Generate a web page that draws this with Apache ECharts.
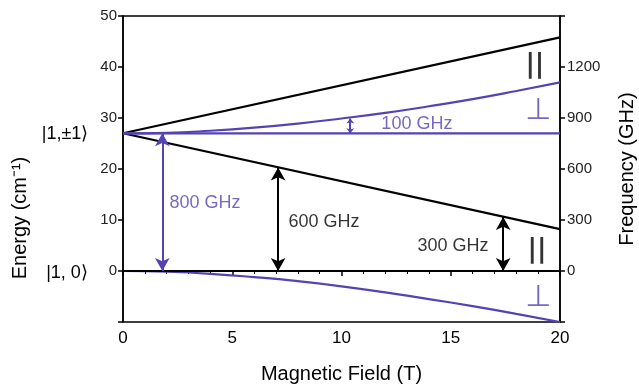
<!DOCTYPE html>
<html>
<head>
<meta charset="utf-8">
<script src="https://cdn.jsdelivr.net/npm/echarts@6/dist/echarts.min.js"></script>
<style>
  html, body { margin: 0; background: #fff; }
  #chart { width: 639px; height: 385px; }
</style>
</head>
<body>
<div id="chart"></div>
<script>
// magnetic field (T)
const fieldEnds = [0, 20]
const fieldSteps = [0, 2, 4, 6, 8, 10, 12, 14, 16, 18, 20]

// energies (cm^-1)
const parUpper = [27, 45.8]
const parLower = [27, 8.2]
const perpMid = [27, 27]
const ground = [0, 0]
const perpUpper = [27, 27.1, 27.5, 28.1, 28.9, 29.9, 31.0, 32.3, 33.7, 35.3, 37.0]
const perpLower = [0, -0.15, -0.55, -1.2, -2.0, -3.0, -4.2, -5.5, -6.9, -8.4, -10.0]

// transition arrows: field, from, to, colour key
const arrowField = [1.8, 7.1, 17.4, 10.4]
const arrowFrom = [27, 20.3, 10.6, 27]
const arrowTo = [0, 0, 0, 29.9]
const arrowKind = ['perp', 'par', 'par', 'perp']

// annotations in data space
const noteText = ['800 GHz', '600 GHz', '300 GHz', '100 GHz', '||', '\u22A5', '||', '\u22A5']
const noteField = [3.75, 9.2, 15.1, 13.45, 18.85, 19.0, 18.95, 19.0]
const noteEnergy = [13.3, 9.6, 4.9, 28.8, 40.4, 31.4, 4.1, -5.3]
const noteKind = ['perp', 'par', 'par', 'perp', 'par', 'perp', 'par', 'perp']

const energyTicks = [-10, 0, 10, 20, 30, 40, 50]
const freqTicks = [-300, 0, 300, 600, 900, 1200, 1500]

const BLUE = '#5443b2'
const BLACK = '#000'
const colorOf = (k) => (k === 'perp' ? BLUE : BLACK)
const FONT = 'Liberation Sans, Arial, sans-serif'

const pairs = (xs, ys) => xs.map((x, i) => [x, ys[i]])

function lineSeries(name, xs, ys, color, smooth) {
  return {
    name,
    type: 'line',
    data: pairs(xs, ys),
    smooth: !!smooth,
    showSymbol: false,
    symbol: 'none',
    lineStyle: { color, width: 2.2 },
    z: 3
  }
}

const arrowLines = arrowField.map((b, i) => {
  const small = Math.abs(arrowTo[i] - arrowFrom[i]) < 5
  return [
    { coord: [b, arrowFrom[i]], symbolSize: small ? [6, 5] : [11, 13] },
    {
      coord: [b, arrowTo[i]],
      symbolSize: small ? [6, 5] : [11, 13],
      lineStyle: { color: colorOf(arrowKind[i]), width: 2, type: 'solid' }
    }
  ]
})

const notes = noteText.map((t, i) => {
  const isBars = t === '||'
  const isPerp = t === '\u22A5'
  return {
    value: [noteField[i], noteEnergy[i]],
    label: {
      formatter: t,
      color: colorOf(noteKind[i]),
      fontSize: isBars ? 26 : isPerp ? 30 : 18,
      fontWeight: isBars ? 'bold' : 'normal',
      fontFamily: isBars || isPerp ? 'DejaVu Sans, sans-serif' : FONT
    }
  }
})

const chart = echarts.init(document.getElementById('chart'))
chart.setOption({
  backgroundColor: '#fff',
  animation: false,
  grid: {
    left: 123,
    right: 79,
    top: 16,
    bottom: 63,
    outerBoundsMode: 'none',
    containLabel: false,
    show: true,
    borderColor: '#000',
    borderWidth: 1.5
  },
  xAxis: {
    type: 'value',
    min: 0,
    max: 20,
    interval: 5,
    name: 'Magnetic Field (T)',
    nameLocation: 'middle',
    nameGap: 42,
    nameTextStyle: { fontSize: 20, color: BLACK, fontFamily: FONT },
    axisLine: { lineStyle: { color: '#000', width: 1.5 } },
    axisTick: { length: 5, lineStyle: { color: '#000', width: 1.5 } },
    minorTick: { show: true, splitNumber: 5, length: 3, lineStyle: { color: '#000' } },
    axisLabel: { fontSize: 17, color: BLACK, fontFamily: FONT, margin: 8 },
    splitLine: { show: false }
  },
  yAxis: [
    {
      type: 'value',
      min: energyTicks[0],
      max: energyTicks[energyTicks.length - 1],
      interval: 10,
      axisLine: { show: true, lineStyle: { color: '#000', width: 1.5 } },
      axisTick: { show: true, length: 5, lineStyle: { color: '#000', width: 1.5 } },
      axisLabel: {
        fontSize: 15,
        color: '#222',
        fontFamily: FONT,
        margin: 6,
        formatter: (v) => (v < 0 ? '' : String(v))
      },
      splitLine: { show: false }
    },
    {
      type: 'value',
      position: 'right',
      min: freqTicks[0],
      max: freqTicks[freqTicks.length - 1],
      interval: 300,
      name: 'Frequency (GHz)',
      nameLocation: 'middle',
      nameGap: 57,
      nameRotate: 90,
      nameTextStyle: { fontSize: 20, color: BLACK, fontFamily: FONT },
      axisLine: { show: true, lineStyle: { color: '#000', width: 1.5 } },
      axisTick: { show: true, length: 5, lineStyle: { color: '#000', width: 1.5 } },
      axisLabel: {
        fontSize: 15,
        color: '#222',
        fontFamily: FONT,
        margin: 7,
        formatter: (v) => (v < 0 || v > 1200 ? '' : String(v))
      },
      splitLine: { show: false }
    }
  ],
  graphic: [
    {
      type: 'text',
      x: 20,
      y: 218,
      rotation: Math.PI / 2,
      style: {
        text: 'Energy (cm\u207B\u00B9)',
        fontSize: 20,
        fontFamily: FONT,
        fill: BLACK,
        align: 'center',
        verticalAlign: 'middle'
      }
    },
    {
      type: 'text',
      x: 65,
      y: 134,
      style: { text: '|1,\u00B11\u27E9', fontSize: 18, fontFamily: FONT, fill: BLACK, align: 'center', verticalAlign: 'middle' }
    },
    {
      type: 'text',
      x: 67,
      y: 273,
      style: { text: '|1, 0\u27E9', fontSize: 18, fontFamily: FONT, fill: BLACK, align: 'center', verticalAlign: 'middle' }
    }
  ],
  series: [
    lineSeries('par upper', fieldEnds, parUpper, BLACK),
    lineSeries('par lower', fieldEnds, parLower, BLACK),
    lineSeries('perp mid', fieldEnds, perpMid, BLUE),
    lineSeries('perp upper', fieldSteps, perpUpper, BLUE, true),
    lineSeries('perp lower', fieldSteps, perpLower, BLUE, true),
    Object.assign(lineSeries('ground', fieldEnds, ground, BLACK), {
      markLine: {
        silent: true,
        symbol: ['arrow', 'arrow'],
        label: { show: false },
        data: arrowLines,
        z: 5
      }
    }),
    {
      name: 'notes',
      type: 'scatter',
      symbolSize: 0,
      data: notes,
      label: { show: true, position: 'inside' },
      z: 6
    }
  ]
})
</script>
</body>
</html>
